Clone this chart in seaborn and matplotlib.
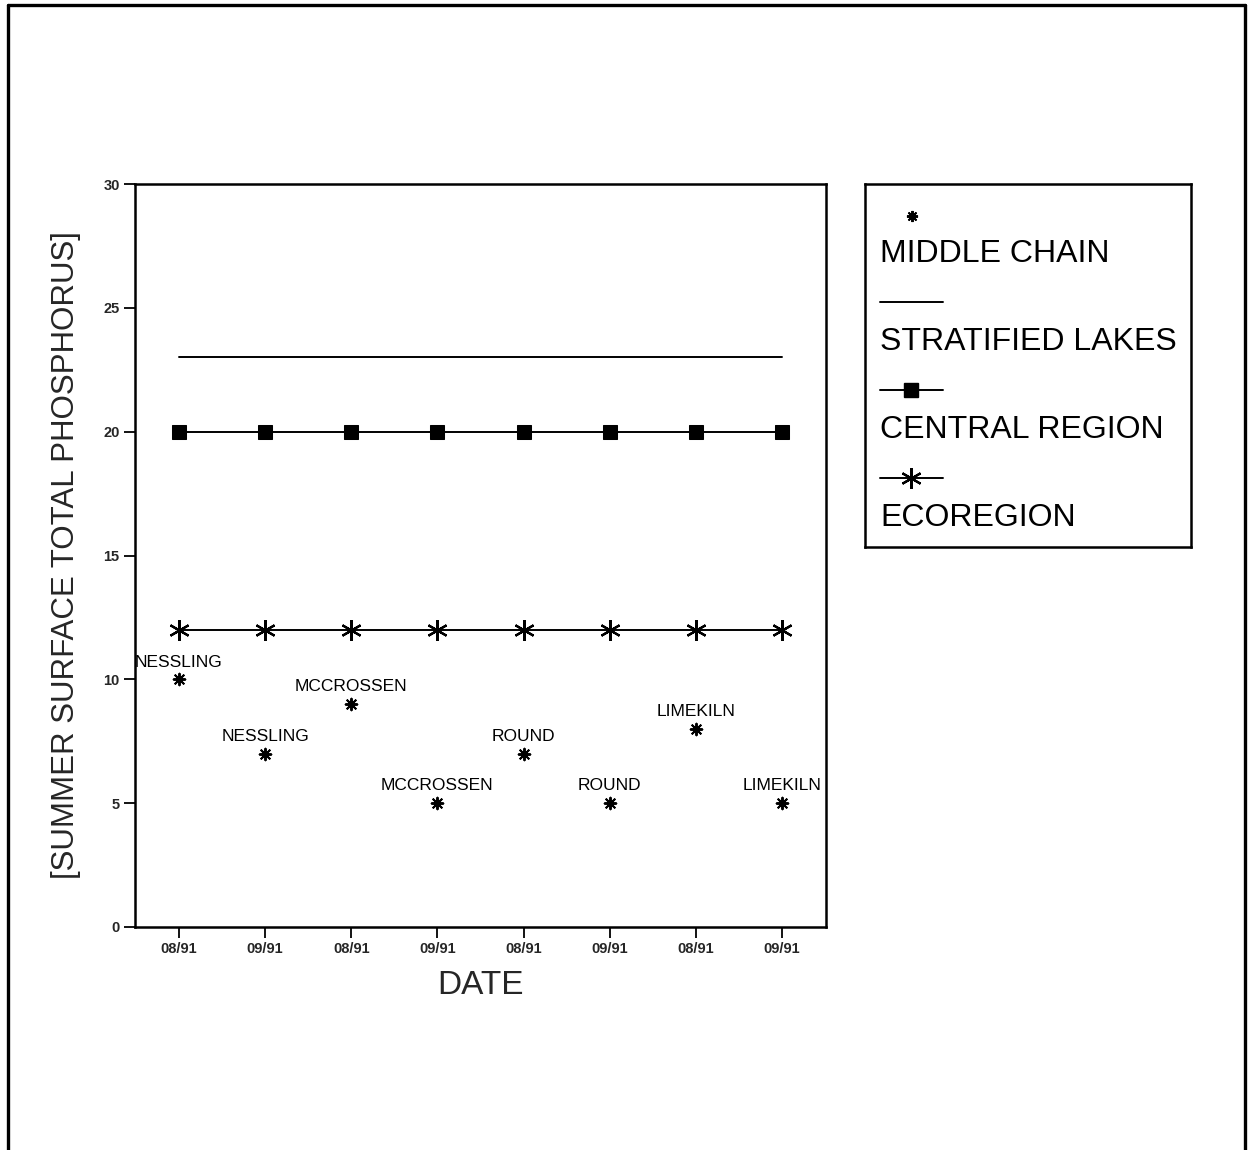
import matplotlib
matplotlib.use("Agg")
import matplotlib.pyplot as plt
import seaborn as sns
import pandas as pd

# Sampling dates (one per lake visit) and lake names
dates = ["08/91", "09/91", "08/91", "09/91", "08/91", "09/91", "08/91", "09/91"]
lakes = ["NESSLING", "NESSLING", "MCCROSSEN", "MCCROSSEN",
         "ROUND", "ROUND", "LIMEKILN", "LIMEKILN"]

# Summer surface total phosphorus
middle_chain = [10, 7, 9, 5, 7, 5, 8, 5]
stratified_lakes = [23, 23, 23, 23, 23, 23, 23, 23]
central_region = [20, 20, 20, 20, 20, 20, 20, 20]
ecoregion = [12, 12, 12, 12, 12, 12, 12, 12]

series_names = ["MIDDLE CHAIN", "STRATIFIED LAKES", "CENTRAL REGION", "ECOREGION"]
y_ticks = [0, 5, 10, 15, 20, 25, 30]

sns.set_theme(style="ticks")
plt.rcParams["font.family"] = ["Liberation Sans", "DejaVu Sans"]

pos = list(range(len(dates)))
df = pd.DataFrame({
    "pos": pos,
    "date": dates,
    "lake": lakes,
    "middle": middle_chain,
    "strat": stratified_lakes,
    "central": central_region,
    "eco": ecoregion,
})

fig = plt.figure(figsize=(12.52, 11.5), dpi=100)
fig.patch.set_facecolor("white")

# page frame (open at the bottom)
fx0, fx1, fy1 = 8 / 1252, 1245 / 1252, 1 - 5 / 1150
for xs, ys in [([fx0, fx0], [0, fy1]), ([fx0, fx1], [fy1, fy1]), ([fx1, fx1], [0, fy1])]:
    fig.add_artist(plt.Line2D(xs, ys, transform=fig.transFigure, color="black", lw=2.4))

ax = fig.add_axes([135 / 1252, 1 - 927 / 1150, 691 / 1252, 743 / 1150])

snow = (8, 2, 0)
ast = (6, 2, 0)

sns.lineplot(data=df, x="pos", y="strat", color="black", lw=1.4, ax=ax)
sns.lineplot(data=df, x="pos", y="central", color="black", lw=1.4,
             marker="s", markersize=10, markeredgecolor="black", ax=ax)
sns.lineplot(data=df, x="pos", y="eco", color="black", lw=1.4,
             marker=ast, markersize=15, markeredgewidth=1.6,
             markeredgecolor="black", markerfacecolor="black", ax=ax)
sns.scatterplot(data=df, x="pos", y="middle", color="black", marker=snow,
                s=70, linewidth=1.4, edgecolor="black", ax=ax, zorder=5)

for p, v, name in zip(pos, middle_chain, lakes):
    ax.annotate(name, (p, v), xytext=(0, 7), textcoords="offset points",
                ha="center", va="bottom", fontsize=12.5, color="black")

ax.set_xlim(-0.51, 7.51)
ax.set_ylim(0, 30)
ax.set_xticks(pos)
ax.set_xticklabels(dates, fontsize=10.5, fontweight="bold")
ax.set_yticks(y_ticks)
ax.set_yticklabels([str(t) for t in y_ticks], fontsize=10.5, fontweight="bold")
ax.tick_params(direction="out", length=8, width=1.3, color="black", pad=3)
for s in ax.spines.values():
    s.set_visible(True)
    s.set_linewidth(1.8)
    s.set_color("black")
ax.set_xlabel("DATE", fontsize=24, labelpad=10)
ax.set_ylabel("[SUMMER SURFACE TOTAL PHOSPHORUS]", fontsize=22.5, labelpad=16)

# legend panel: symbol above each label
lg = fig.add_axes([865 / 1252, 1 - 547 / 1150, 326 / 1252, 363 / 1150])
lg.set_xlim(865, 1191)
lg.set_ylim(547, 184)
lg.set_xticks([])
lg.set_yticks([])
for s in lg.spines.values():
    s.set_linewidth(1.8)
    s.set_color("black")

sym_y = [216, 302, 390, 478]
txt_y = [254, 342, 430, 518]
lg.plot([912], [sym_y[0]], marker=snow, markersize=8, mew=1.4, color="black", ls="none")
lg.plot([880, 943], [sym_y[1]] * 2, color="black", lw=1.4)
lg.plot([880, 943], [sym_y[2]] * 2, color="black", lw=1.4)
lg.plot([911], [sym_y[2]], marker="s", markersize=10, color="black")
lg.plot([880, 943], [sym_y[3]] * 2, color="black", lw=1.4)
lg.plot([911], [sym_y[3]], marker=ast, markersize=15, mew=1.6, color="black")
for ty, name in zip(txt_y, series_names):
    lg.text(880, ty, name, fontsize=23, ha="left", va="center", color="black")

fig.savefig("out.png", dpi=100, facecolor="white")
